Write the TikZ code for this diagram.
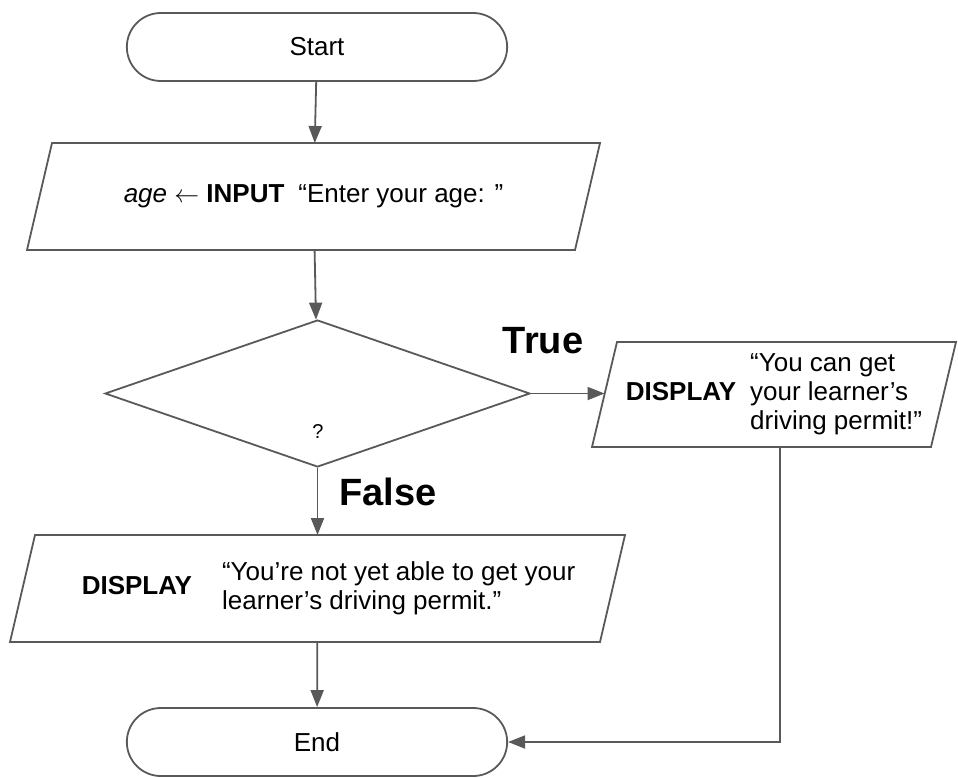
\documentclass[tikz,border=0pt]{standalone}
\usepackage{fontspec}
\setmainfont{Liberation Sans}
\usetikzlibrary{shapes.geometric,shapes.misc,arrows.meta}
\definecolor{linegray}{RGB}{89,89,89}
\tikzset{
  boxline/.style={draw=linegray, line width=1.8pt, line join=miter},
  terminal/.style={rounded rectangle, boxline, minimum width=387pt, minimum height=68pt, font=\fontsize{26}{31}\selectfont},
  io/.style={rectangle, outer sep=0pt, minimum height=106pt, font=\fontsize{26}{31}\selectfont},
  decision/.style={diamond, boxline, minimum width=425pt, minimum height=147pt, inner sep=0pt},
  flow/.style={draw=linegray, line width=1.8pt, -{Triangle[length=17pt,width=13pt]}},
  answer/.style={font=\bfseries\fontsize{38}{44}\selectfont}
}
% parallelogram round an io node, slanted edges through west and east
\newcommand{\slantbox}[1]{\draw[boxline] ([xshift=12.5pt]#1.north west) -- ([xshift=12.5pt]#1.north east) -- ([xshift=-12.5pt]#1.south east) -- ([xshift=-12.5pt]#1.south west) -- cycle;}
\begin{document}
\begin{tikzpicture}[x=1pt,y=1pt]
\useasboundingbox (0,0) rectangle (958,-777);
% Start and input
\node[terminal] (start) at (317,-47) {Start};
\node[io, minimum width=548pt, minimum height=107pt] (input) at (313.5,-196.5) {{\itshape age} $\leftarrow$ \textbf{INPUT}\hspace{14pt}“Enter your age: ”};
\slantbox{input}
% Decision
\node[decision] (check) at (317.5,-393.5) {};
\node[font=\fontsize{20}{24}\selectfont] (mark) at (318,-432) {?};
% True branch
\node[io, minimum width=339pt, minimum height=105pt] (yes) at (774,-394.5) {\textbf{DISPLAY}\hspace{14pt}\begin{tabular}{@{}l@{}}“You can get\\[-2pt] your learner’s\\[-2pt] driving permit!”\end{tabular}};
\slantbox{yes}
\node[answer] (truelbl) at (543,-341) {True};
% False branch
\node[io, minimum width=590pt, minimum height=107pt] (no) at (317.5,-588.5) {\hspace*{22pt}\textbf{DISPLAY}\hspace{30pt}\begin{tabular}{@{}l@{}}“You’re not yet able to get your\\[-2pt] learner’s driving permit.”\end{tabular}};
\slantbox{no}
\node[answer] (falselbl) at (388,-492) {False};
% End
\node[terminal] (end) at (317,-742) {End};
% Connectors
\draw[flow] (start) -- (input);
\draw[flow] (input) -- (check);
\draw[flow] (check.east) -- (check.east -| yes.west);
\draw[flow] (check) -- (no);
\draw[flow] (no) -- (end);
\draw[flow] ([xshift=6pt]yes.south) |- (end.east);
\end{tikzpicture}
\end{document}
